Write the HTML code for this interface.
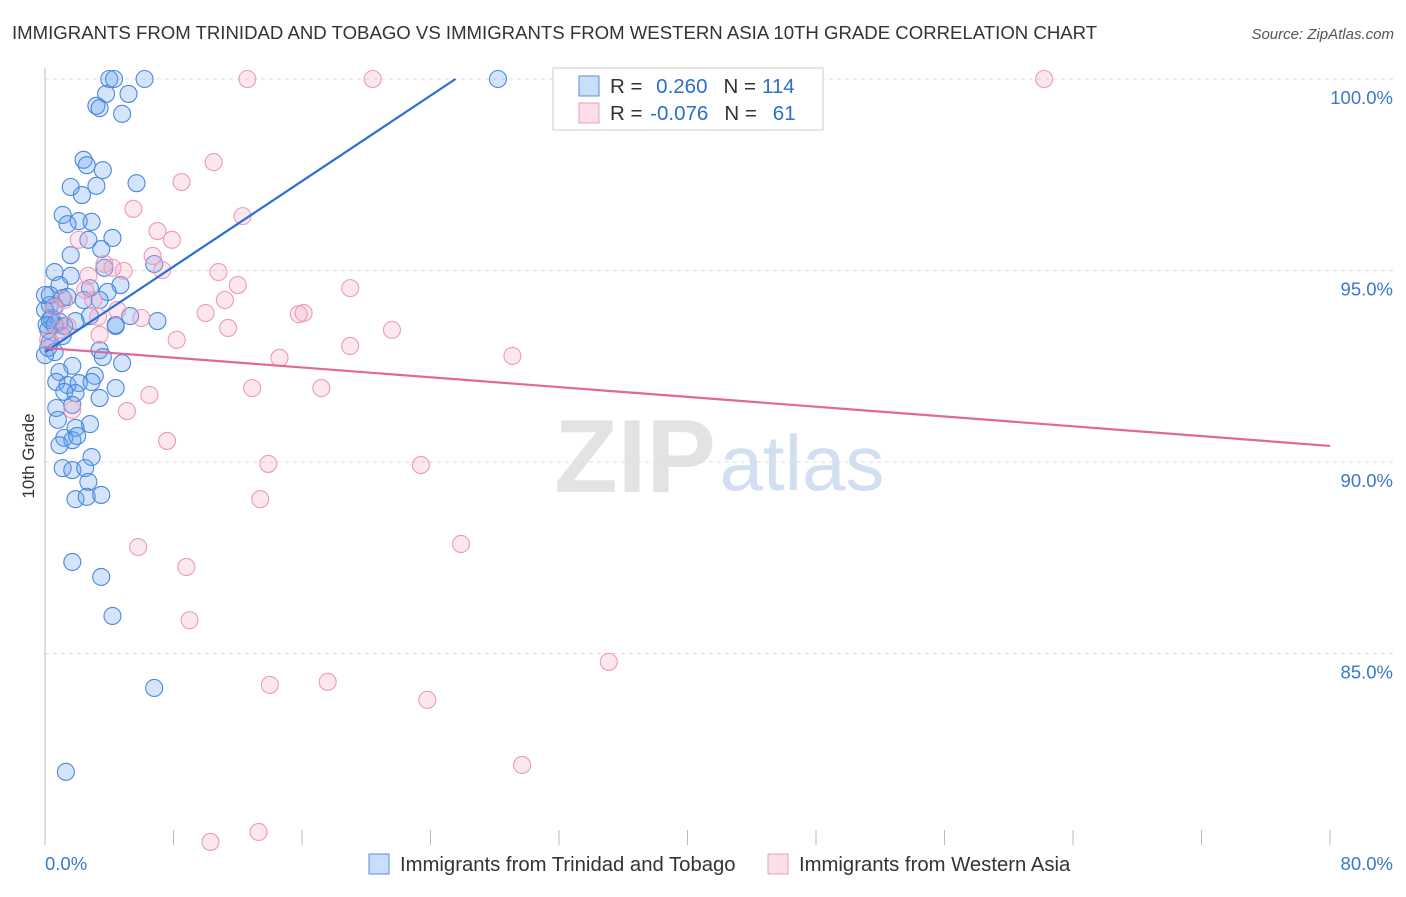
<!DOCTYPE html>
<html><head><meta charset="utf-8"><style>
body{margin:0;background:#fff;font-family:"Liberation Sans",sans-serif;}
svg text{font-family:"Liberation Sans",sans-serif;}
</style></head><body>
<svg id="chart" width="1406" height="892" xmlns="http://www.w3.org/2000/svg">
<text x="12" y="39" font-size="18.6" fill="#333">IMMIGRANTS FROM TRINIDAD AND TOBAGO VS IMMIGRANTS FROM WESTERN ASIA 10TH GRADE CORRELATION CHART</text>
<text x="1394" y="39" font-size="15" fill="#555" font-style="italic" text-anchor="end">Source: ZipAtlas.com</text>
<g>
<text x="635" y="492" font-size="104" fill="#ddd" font-family="Liberation Serif" text-anchor="middle" font-weight="bold" opacity="0.8">ZIP</text>
<text x="802" y="490" font-size="78" fill="#c8d8ee" text-anchor="middle" opacity="0.8">atlas</text>
</g>
<g id="grid"></g>
<g id="axes"></g>
<g id="points"></g>
<g id="trends"></g>
<text transform="translate(34,456) rotate(-90)" font-size="17" fill="#333" text-anchor="middle">10th Grade</text>
<g>
<rect x="553" y="68" width="270" height="62" fill="#fff" stroke="#ccc"/>
<rect x="579" y="76" width="20" height="20" fill="rgba(100,160,240,0.35)" stroke="#5a8fd8"/>
<rect x="579" y="103" width="20" height="20" fill="rgba(245,160,190,0.35)" stroke="#e8a0b8"/>
<text x="610" y="93" font-size="20.5" fill="#333">R = <tspan fill="#2a6fd0" dx="8">0.260</tspan><tspan fill="#333" dx="16">N =</tspan><tspan fill="#2a6fd0" dx="6">114</tspan></text>
<text x="610" y="120" font-size="20.5" fill="#333">R = <tspan fill="#2a6fd0" dx="2">-0.076</tspan><tspan fill="#333" dx="16">N =</tspan><tspan fill="#2a6fd0" dx="16">61</tspan></text>
</g>
<g>
<rect x="369" y="854" width="20" height="20" fill="rgba(100,160,240,0.35)" stroke="#5a8fd8"/>
<text x="400" y="871" font-size="20.3" fill="#333">Immigrants from Trinidad and Tobago</text>
<rect x="768" y="854" width="20" height="20" fill="rgba(245,160,190,0.35)" stroke="#e8a0b8"/>
<text x="799" y="871" font-size="20.3" fill="#333">Immigrants from Western Asia</text>
</g>
</svg>
<script>
const yTicks=[100,95,90,85];
const yTickLabels=["100.0%","95.0%","90.0%","85.0%"];
const xTicks=[0,8,16,24,32,40,48,56,64,72,80];
const xLabelMin="0.0%", xLabelMax="80.0%";
const blueX=[4.0,4.3,6.2,28.2,3.8,5.2,3.2,3.4,4.8,2.4,2.6,3.6,1.6,3.2,5.7,2.3,1.1,2.1,2.9,1.4,4.2,2.7,3.5,1.6,0.6,1.6,3.7,6.8,0.9,2.8,4.7,3.9,1.1,1.4,2.4,0.3,0.6,3.4,0,5.3,7.0,4.4,0.4,0.9,2.8,1.9,1.2,0.2,0.3,0.6,0,3.4,3.6,4.8,1.7,0.9,0.7,3.1,1.4,2.1,1.2,1.9,4.4,3.4,0.7,1.7,2.8,0.8,1.9,1.2,1.7,2.0,0.9,2.9,1.1,1.7,2.5,2.7,1.9,2.6,3.5,1.7,3.5,4.2,6.8,1.3,0,0.3,0.1,0.3,0.6,1.1,0.2,4.4,2.9];
const blueY=[100,100,100,100,99.61,99.61,99.30,99.24,99.09,97.89,97.75,97.62,97.18,97.21,97.28,96.97,96.45,96.29,96.27,96.21,95.85,95.80,95.56,95.40,94.96,94.86,95.07,95.17,94.62,94.54,94.62,94.44,94.28,94.31,94.23,94.10,94.07,94.23,93.97,93.81,93.68,93.58,93.76,93.66,93.81,93.68,93.55,93.45,93.13,92.87,92.79,92.92,92.74,92.58,92.51,92.35,92.09,92.25,92.01,92.06,91.83,91.80,91.93,91.67,91.41,91.49,90.99,91.10,90.89,90.63,90.57,90.68,90.44,90.13,89.84,89.79,89.84,89.48,89.03,89.09,89.14,87.39,87.00,85.98,84.10,81.91,94.36,94.36,93.58,93.71,93.58,93.29,92.98,93.55,92.09];
const pinkX=[12.6,20.4,42.3,62.2,10.5,8.5,5.5,12.3,7.0,7.9,2.1,6.7,3.7,7.3,4.9,10.8,2.7,12.0,19.0,11.2,3.0,4.5,10.0,15.8,16.1,6.0,3.3,11.4,21.6,1.4,0.9,8.2,19.0,14.6,29.1,0.2,12.9,17.2,6.5,5.1,1.7,7.6,13.9,23.4,13.4,5.8,25.9,8.8,9.0,35.1,14.0,17.6,23.8,29.7,13.3,10.3,1.2,0.6,3.4,2.5,4.2];
const pinkY=[100,100,100,100,97.83,97.31,96.61,96.42,96.03,95.80,95.80,95.38,95.17,95.01,94.99,94.96,94.86,94.62,94.54,94.23,94.23,93.97,93.89,93.86,93.89,93.76,93.79,93.50,93.45,93.55,93.45,93.19,93.03,92.72,92.77,93.19,91.93,91.93,91.75,91.33,91.36,90.55,89.95,89.92,89.03,87.78,87.86,87.26,85.87,84.78,84.18,84.26,83.79,82.09,80.34,80.08,94.23,94.02,93.32,94.49,95.07];
const blueTrend=[92.87,0.279];
const pinkTrend=[92.98,-0.032];

const X0=45,X1=1330,Y100=79,PXPER=38.3;
const sx=v=>X0+(v/80)*(X1-X0);
const sy=v=>Y100+(100-v)*PXPER;
const NS="http://www.w3.org/2000/svg";
function mk(tag,attrs,parent){const e=document.createElementNS(NS,tag);for(const k in attrs)e.setAttribute(k,attrs[k]);parent.appendChild(e);return e;}
const grid=document.getElementById('grid'),axes=document.getElementById('axes'),pts=document.getElementById('points'),tr=document.getElementById('trends');
yTicks.forEach((t,i)=>{
  const l=mk('line',{x1:X0,x2:1394,y1:sy(t),y2:sy(t),stroke:'#ddd','stroke-dasharray':'4,4'},grid);
  
  
  const tx=mk('text',{x:1393,y:sy(t)+25,'font-size':18.5,fill:'#3a78d0','text-anchor':'end'},grid);
  tx.textContent=yTickLabels[i];
  
  
});
const ya=mk('line',{x1:X0,x2:X0,y1:68,y2:845,stroke:'#bbb'},axes);


xTicks.forEach(t=>{
  const l=mk('line',{x1:sx(t),x2:sx(t),y1:830,y2:845,stroke:'#bbb'},axes);
  
  
});
const xl0=mk('text',{x:45,y:870,'font-size':18.5,fill:'#3a78d0'},axes);xl0.textContent=xLabelMin;


const xl1=mk('text',{x:1393,y:870,'font-size':18.5,fill:'#3a78d0','text-anchor':'end'},axes);xl1.textContent=xLabelMax;


blueX.forEach((x,i)=>{
  const c=mk('circle',{cx:sx(x),cy:sy(blueY[i]),r:8.5,fill:'rgba(100,160,240,0.28)',stroke:'#4a88dc','stroke-width':1.1},pts);
  
  
});
pinkX.forEach((x,i)=>{
  const c=mk('circle',{cx:sx(x),cy:sy(pinkY[i]),r:8.5,fill:'rgba(245,160,190,0.25)',stroke:'#eb9bb8','stroke-width':1.1},pts);
  
  
});
const bxEnd=(100-blueTrend[0])/blueTrend[1];
const bl=mk('line',{x1:sx(0),y1:sy(blueTrend[0]),x2:sx(bxEnd),y2:sy(100),stroke:'#2a6fd8','stroke-width':2.2},tr);


const pl=mk('line',{x1:sx(0),y1:sy(pinkTrend[0]),x2:sx(80),y2:sy(pinkTrend[0]+pinkTrend[1]*80),stroke:'#e0689a','stroke-width':2.2},tr);


</script>
</body></html>
